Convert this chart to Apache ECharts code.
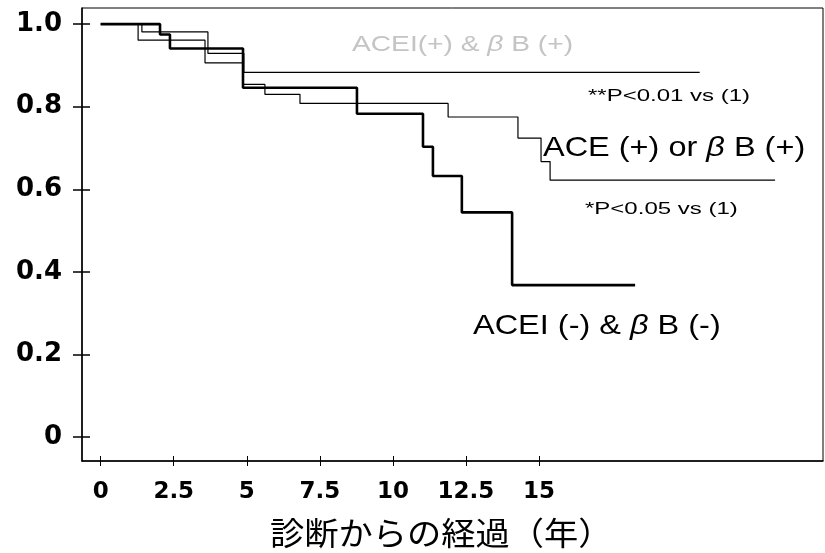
<!DOCTYPE html>
<html>
<head>
  <meta charset="UTF-8">
  <title>診断からの経過</title>
  <script src="https://cdn.jsdelivr.net/npm/echarts@6/dist/echarts.min.js"></script>
  <style>
    html, body { margin: 0; padding: 0; background: #fff; }
    #main { width: 825px; height: 553px; }
  </style>
</head>
<body>
<div id="main"></div>
<script>
  // x: 診断からの経過（年）, y: 生存率
  let xTicks = [0, 2.5, 5, 7.5, 10, 12.5, 15];
  let yTicks = [0, 0.2, 0.4, 0.6, 0.8, 1.0];

  // ACEI(+) & βB(+)
  let time1 = [0, 1.41, 3.67, 4.90, 20.5];
  let surv1 = [1.0, 0.981, 0.929, 0.883, 0.883];
  // ACE(+) or βB(+)
  let time2 = [0, 1.28, 3.57, 4.87, 5.62, 6.82, 11.89, 14.28, 15.07, 15.38, 23.08];
  let surv2 = [1.0, 0.961, 0.906, 0.854, 0.830, 0.808, 0.775, 0.724, 0.667, 0.622, 0.622];
  // ACEI(-) & βB(-)
  let time3 = [0, 2.03, 2.37, 4.87, 8.77, 11.03, 11.37, 12.36, 14.08, 18.29];
  let surv3 = [1.0, 0.975, 0.941, 0.846, 0.783, 0.703, 0.632, 0.544, 0.368, 0.368];

  function pairs(t, s) {
    return t.map(function (v, i) { return [v, s[i]]; });
  }

  let font = '"Liberation Sans", Arial, sans-serif';
  let boldFont = '"DejaVu Sans", sans-serif';

  // 扫描原图的文字偏宽，用 scaleX 拉伸
  function label(left, top, size, sx, color, parts) {
    return {
      type: 'text',
      left: left,
      top: top,
      scaleX: sx,
      style: {
        text: parts,
        fill: color,
        rich: {
          a: { fontFamily: font, fontSize: size, fill: color },
          b: { fontFamily: font, fontSize: size, fill: color, fontStyle: 'italic' }
        }
      }
    };
  }

  let myChart = echarts.init(document.getElementById('main'), null, {renderer: 'canvas'});
  let xMin = -0.64, xMax = 24.72, yMin = -0.058, yMax = 1.039;

  let option = {
    animation: false,
    grid: {
      left: 82, right: 2, top: 8, bottom: 92,
      show: true, borderColor: '#000', borderWidth: 1
    },
    xAxis: [{
      type: 'value', min: xMin, max: xMax,
      axisLine: { onZero: false, lineStyle: { color: '#000', width: 1.5 } },
      axisTick: { customValues: xTicks, length: 5, lineStyle: { color: '#000' } },
      axisLabel: {
        customValues: xTicks, margin: 20, color: '#000',
        fontFamily: boldFont, fontSize: 23, fontWeight: 'bold'
      },
      splitLine: { show: false }
    }, {
      type: 'value', min: xMin, max: xMax, position: 'bottom',
      axisLine: { show: false, onZero: false },
      axisTick: { customValues: xTicks, inside: true, length: 5, lineStyle: { color: '#000' } },
      axisLabel: { show: false },
      splitLine: { show: false }
    }],
    yAxis: [{
      type: 'value', min: yMin, max: yMax,
      axisLine: { show: true, onZero: false, lineStyle: { color: '#000', width: 1.5 } },
      axisTick: { show: true, customValues: yTicks, length: 9, lineStyle: { color: '#000', width: 1.5 } },
      axisLabel: {
        customValues: yTicks, margin: 20, color: '#000',
        fontFamily: boldFont, fontSize: 26, fontWeight: 'bold',
        formatter: function (v) { return v === 0 ? '0' : v.toFixed(1); }
      },
      splitLine: { show: false }
    }, {
      type: 'value', min: yMin, max: yMax, position: 'left',
      axisLine: { show: false, onZero: false },
      axisTick: { show: true, customValues: yTicks, inside: true, length: 8, lineStyle: { color: '#000', width: 1.5 } },
      axisLabel: { show: false },
      splitLine: { show: false }
    }],
    series: [{
      name: 'ACEI(+) & βB(+)',
      type: 'line', step: 'end', symbol: 'none',
      lineStyle: { color: '#000', width: 1.2 },
      data: pairs(time1, surv1)
    }, {
      name: 'ACE(+) or βB(+)',
      type: 'line', step: 'end', symbol: 'none',
      lineStyle: { color: '#000', width: 1.2 },
      data: pairs(time2, surv2)
    }, {
      name: 'ACEI(-) & βB(-)',
      type: 'line', step: 'end', symbol: 'none',
      lineStyle: { color: '#000', width: 2.6 },
      data: pairs(time3, surv3)
    }],
    graphic: [
      label(352, 34, 22, 1.28, '#c4c4c4', '{a|ACEI(+) & }{b|β}{a| B (+)}'),
      label(588, 89, 16, 1.5, '#000', '{a|**P<0.01 vs (1)}'),
      label(543, 134, 28, 1.16, '#000', '{a|ACE (+) or }{b|β}{a| B (+)}'),
      label(585, 202, 16, 1.5, '#000', '{a|*P<0.05 vs (1)}'),
      label(473, 312, 28, 1.16, '#000', '{a|ACEI (-) & }{b|β}{a| B (-)}'),
      {
        type: 'text', left: 270, top: 517, scaleX: 1.07,
        style: {
          text: '診断からの経過（年）', fill: '#000',
          font: '32px "Noto Sans CJK JP", sans-serif'
        }
      }
    ]
  };

  myChart.setOption(option);

  window.addEventListener("resize", function () {
    myChart.resize();
  });
</script>
</body>
</html>
